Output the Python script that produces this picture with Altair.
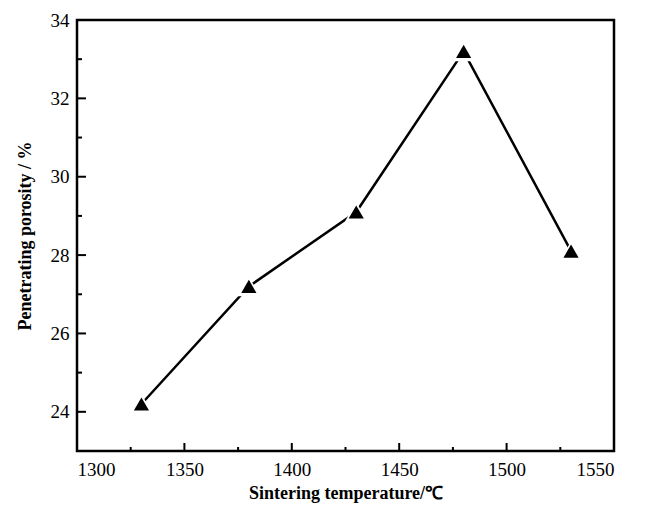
import altair as alt
import pandas as pd

temps = [1330, 1380, 1430, 1480, 1530]
porosity = [24.2, 27.2, 29.1, 33.2, 28.1]
x_major = [1300, 1350, 1400, 1450, 1500, 1550]
x_minor = [1325, 1375, 1425, 1475, 1525]
y_major = [24, 26, 28, 30, 32, 34]
y_minor = [25, 27, 29, 31, 33]

W, H = 537, 431
FONT = "Liberation Serif"

df = pd.DataFrame({"t": temps, "p": porosity})
xs = alt.Scale(domain=[1300, 1550], nice=False, zero=False)
ys = alt.Scale(domain=[23, 34], nice=False, zero=False)

xax = alt.Axis(values=x_major, format="d", ticks=False, tickSize=0, domain=False, grid=False, labelPadding=9,
               labelFont=FONT, labelFontSize=19, labelColor="black",
               title="Sintering temperature/℃", titleFont=FONT, titleFontSize=18,
               titleFontWeight="bold", titleColor="black", titlePadding=5)
yax = alt.Axis(values=y_major, format="d", ticks=False, tickSize=0, domain=False, grid=False, labelPadding=8,
               labelFont=FONT, labelFontSize=19, labelColor="black",
               title="Penetrating porosity / %", titleFont=FONT, titleFontSize=18,
               titleFontWeight="bold", titleColor="black", titlePadding=16)

line = alt.Chart(df).mark_line(color="black", strokeWidth=2.5).encode(
    x=alt.X("t:Q", scale=xs, axis=xax), y=alt.Y("p:Q", scale=ys, axis=yax))
halo = alt.Chart(df).mark_point(shape="triangle-up", filled=True, color="white", size=520, opacity=1).encode(
    x=alt.X("t:Q", scale=xs, axis=xax), y=alt.Y("p:Q", scale=ys, axis=yax))
pts = alt.Chart(df).mark_point(shape="triangle-up", filled=True, color="black", size=230, opacity=1).encode(
    x=alt.X("t:Q", scale=xs, axis=xax), y=alt.Y("p:Q", scale=ys, axis=yax))

def xticks(vals, length):
    return alt.Chart(pd.DataFrame({"v": vals})).mark_rule(color="black", strokeWidth=2).encode(
        x=alt.X("v:Q", scale=xs, axis=xax), y=alt.value(H), y2=alt.value(H - length))

def yticks(vals, length):
    return alt.Chart(pd.DataFrame({"v": vals})).mark_rule(color="black", strokeWidth=2).encode(
        y=alt.Y("v:Q", scale=ys, axis=yax), x=alt.value(0), x2=alt.value(length))

chart = alt.layer(
    line, halo, pts,
    xticks(x_major, 8), xticks(x_minor, 4), yticks(y_major, 9), yticks(y_minor, 5)
).properties(
    width=W, height=H,
    autosize=alt.AutoSizeParams(type="none"),
    padding={"left": 77, "top": 20, "right": 32, "bottom": 61},
    background="white",
).configure_view(stroke="black", strokeWidth=2.5
).configure_axis(ticks=False, tickSize=0, domain=False, grid=False, labelColor="black", titleColor="black")

chart.save("out.html", embed_options={"renderer": "svg", "actions": False})
